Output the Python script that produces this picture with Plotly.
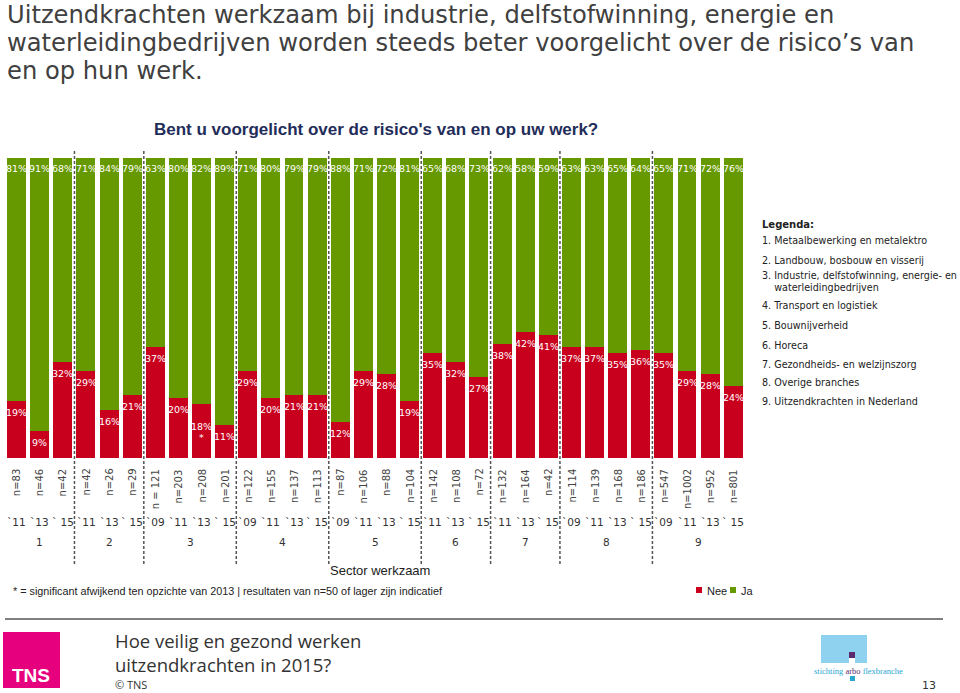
import plotly.graph_objects as go

# ---------------- data ----------------
sectors = ["1", "2", "3", "4", "5", "6", "7", "8", "9"]
group_sizes = [3, 3, 4, 4, 4, 3, 3, 4, 4]
years = ["`11", "`13", "` 15",
         "`11", "`13", "` 15",
         "`09", "`11", "`13", "` 15",
         "`09", "`11", "`13", "` 15",
         "`09", "`11", "`13", "` 15",
         "`11", "`13", "` 15",
         "`11", "`13", "` 15",
         "`09", "`11", "`13", "` 15",
         "`09", "`11", "`13", "` 15"]
n_labels = ["n=83", "n=46", "n=42",
            "n=42", "n=26", "n=29",
            "n = 121", "n=203", "n=208", "n=201",
            "n=122", "n=155", "n=137", "n=113",
            "n=87", "n=106", "n=88", "n=104",
            "n=142", "n=108", "n=72",
            "n=132", "n=164", "n=42",
            "n=114", "n=139", "n=168", "n=186",
            "n=547", "n=1002", "n=952", "n=801"]
nee = [19, 9, 32,
       29, 16, 21,
       37, 20, 18, 11,
       29, 20, 21, 21,
       12, 29, 28, 19,
       35, 32, 27,
       38, 42, 41,
       37, 37, 35, 36,
       35, 29, 28, 24]
ja = [81, 91, 68,
      71, 84, 79,
      63, 80, 82, 89,
      71, 80, 79, 79,
      88, 71, 72, 81,
      65, 68, 73,
      62, 58, 59,
      63, 63, 65, 64,
      65, 71, 72, 76]
significant = [8]  # index of bar marked with *

legend_items = ["1. Metaalbewerking en metalektro",
                "2. Landbouw, bosbouw en visserij",
                "3. Industrie, delfstofwinning, energie- en",
                "    waterleidingbedrijven",
                "4. Transport en logistiek",
                "5. Bouwnijverheid",
                "6. Horeca",
                "7. Gezondheids- en welzijnszorg",
                "8. Overige branches",
                "9. Uitzendkrachten in Nederland"]
legend_y = [240, 260.5, 275.5, 287.5, 306, 325, 345, 364, 382.5, 401.5]

RED = "#C8001E"
GREEN = "#669900"
W, H = 960, 693


def px(x):
    return x / W


def py(y):
    return 1 - y / H


def text_at(x, y, text, font, xanchor="center", yanchor="middle", **kw):
    d = dict(x=px(x), y=py(y), xref="paper", yref="paper", text=text, showarrow=False,
             xanchor=xanchor, yanchor=yanchor, font=font)
    d.update(kw)
    return d


xs = list(range(len(nee)))

fig = go.Figure()
fig.add_trace(go.Bar(x=xs, y=nee, name="Nee", marker_color=RED, width=0.82,
                     marker_line_width=0, hoverinfo="skip"))
fig.add_trace(go.Bar(x=xs, y=ja, name="Ja", marker_color=GREEN, width=0.82,
                     marker_line_width=0, hoverinfo="skip"))

ann = []
lab_font = dict(family="DejaVu Sans", size=9.5, color="white")
for i, (a, b) in enumerate(zip(nee, ja)):
    ann.append(dict(x=i, y=100, xref="x", yref="y", text=f"{b}%", showarrow=False,
                    xanchor="center", yanchor="middle", yshift=-11, font=lab_font))
    if i in significant:
        ann.append(dict(x=i, y=a, xref="x", yref="y", text=f"{a}%", showarrow=False,
                        xanchor="center", yanchor="middle", yshift=-22, font=lab_font))
        ann.append(dict(x=i, y=a, xref="x", yref="y", text="*", showarrow=False,
                        xanchor="center", yanchor="middle", yshift=-33, font=lab_font))
    else:
        ann.append(dict(x=i, y=a, xref="x", yref="y", text=f"{a}%", showarrow=False,
                        xanchor="center", yanchor="middle", yshift=-11, font=lab_font))
    ann.append(dict(x=i, y=py(467), xref="x", yref="paper", text=n_labels[i],
                    showarrow=False, textangle=-90, xanchor="center", yanchor="top",
                    font=dict(family="DejaVu Sans", size=10, color="#444444")))
    ann.append(dict(x=i, y=py(522), xref="x", yref="paper", text=years[i],
                    showarrow=False, xanchor="center", yanchor="middle",
                    font=dict(family="DejaVu Sans", size=10.5, color="#333333")))

shapes = []
start = 0
for s, g in zip(sectors, group_sizes):
    ann.append(dict(x=start + (g - 1) / 2, y=py(542), xref="x", yref="paper", text=s,
                    showarrow=False, xanchor="center", yanchor="middle",
                    font=dict(family="DejaVu Sans", size=10.5, color="#333333")))
    start += g
    if start < len(nee):
        shapes.append(dict(type="line", xref="x", yref="paper", x0=start - 0.5,
                           x1=start - 0.5, y0=py(564), y1=py(150),
                           line=dict(color="#555555", width=1.5, dash="3px,2px")))

# titles
title_font = dict(family="DejaVu Sans", size=24.2, color="#404040")
for t, y in zip(["Uitzendkrachten werkzaam bij industrie, delfstofwinning, energie en",
                 "waterleidingbedrijven worden steeds beter voorgelicht over de risico\u2019s van",
                 "en op hun werk."], [15, 43, 71]):
    ann.append(text_at(5, y, t, title_font, xanchor="left"))
ann.append(text_at(376, 130, "<b>Bent u voorgelicht over de risico's van en op uw werk?</b>",
                   dict(family="Liberation Sans", size=17, color="#1F2D5A")))

# right legend
ann.append(text_at(760, 224, "<b>Legenda:</b>",
                   dict(family="DejaVu Sans", size=10, color="#222222"), xanchor="left"))
for t, y in zip(legend_items, legend_y):
    ann.append(text_at(760, y, t.replace("    ", "&nbsp;&nbsp;&nbsp;&nbsp;"),
                       dict(family="DejaVu Sans", size=9.6, color="#222222"), xanchor="left"))

narrow = "Liberation Sans Narrow, Liberation Sans, Arial"
ann.append(text_at(380, 570, "Sector werkzaam", dict(family=narrow, size=13, color="#222222")))
ann.append(text_at(11, 591,
                   "* = significant afwijkend ten opzichte van 2013 | resultaten van n=50 of lager zijn indicatief",
                   dict(family=narrow, size=10.8, color="#222222"), xanchor="left"))
# bottom legend
shapes.append(dict(type="rect", xref="paper", yref="paper", x0=px(696), x1=px(702),
                   y0=py(593), y1=py(587), fillcolor=RED, line_width=0))
shapes.append(dict(type="rect", xref="paper", yref="paper", x0=px(730), x1=px(736),
                   y0=py(593), y1=py(587), fillcolor=GREEN, line_width=0))
ann.append(text_at(705, 591, "Nee", dict(family=narrow, size=11, color="#222222"), xanchor="left"))
ann.append(text_at(739, 591, "Ja", dict(family=narrow, size=11, color="#222222"), xanchor="left"))

# footer
shapes.append(dict(type="line", xref="paper", yref="paper", x0=px(5), x1=px(943),
                   y0=py(619), y1=py(619), line=dict(color="#555555", width=1.5)))
shapes.append(dict(type="rect", xref="paper", yref="paper", x0=px(3), x1=px(60),
                   y0=py(688), y1=py(632), fillcolor="#E6007E", line_width=0))
ann.append(text_at(31, 675, "<b>TNS</b>",
                   dict(family="Liberation Sans Narrow, Liberation Sans", size=19, color="white")))
foot_font = dict(family="Open Sans", size=18.5, color="#333333")
ann.append(text_at(113, 640, "Hoe veilig en gezond werken", foot_font, xanchor="left"))
ann.append(text_at(113, 664, "uitzendkrachten in 2015?", foot_font, xanchor="left"))
ann.append(text_at(113, 684, "\u00a9 TNS", dict(family="Open Sans", size=11, color="#333333"),
                   xanchor="left"))
# arbo flexbranche logo
shapes.append(dict(type="rect", xref="paper", yref="paper", x0=px(821), x1=px(867),
                   y0=py(663), y1=py(635), fillcolor="#8ED2F0", line_width=0))
shapes.append(dict(type="rect", xref="paper", yref="paper", x0=px(849), x1=px(855),
                   y0=py(663), y1=py(658), fillcolor="white", line_width=0))
shapes.append(dict(type="rect", xref="paper", yref="paper", x0=px(849), x1=px(855),
                   y0=py(658), y1=py(652), fillcolor="#5B2A6E", line_width=0))
shapes.append(dict(type="rect", xref="paper", yref="paper", x0=px(850), x1=px(855),
                   y0=py(681), y1=py(676), fillcolor="#2AA6D3", line_width=0))
ann.append(text_at(858, 671,
                   "<span style='color:#2AA6D3'>stichting </span><span style='color:#5B2A6E'>arbo</span><span style='color:#2AA6D3'> flexbranche</span>",
                   dict(family="Liberation Serif", size=8.5)))
ann.append(text_at(929, 685, "13", dict(family="DejaVu Sans", size=11, color="#333333")))

fig.update_layout(
    width=W, height=H, autosize=False,
    margin=dict(l=0, r=0, t=0, b=0),
    paper_bgcolor="white", plot_bgcolor="white",
    barmode="stack", bargap=0, showlegend=False,
    xaxis=dict(domain=[px(5.1), px(744.9)], range=[-0.5, len(nee) - 0.5],
               visible=False, fixedrange=True),
    yaxis=dict(domain=[py(458), py(158)], range=[0, 100], visible=False, fixedrange=True),
    annotations=ann, shapes=shapes,
)

fig.write_html("out.html", post_script="document.body.style.margin='0';",
               config={"displayModeBar": False})
